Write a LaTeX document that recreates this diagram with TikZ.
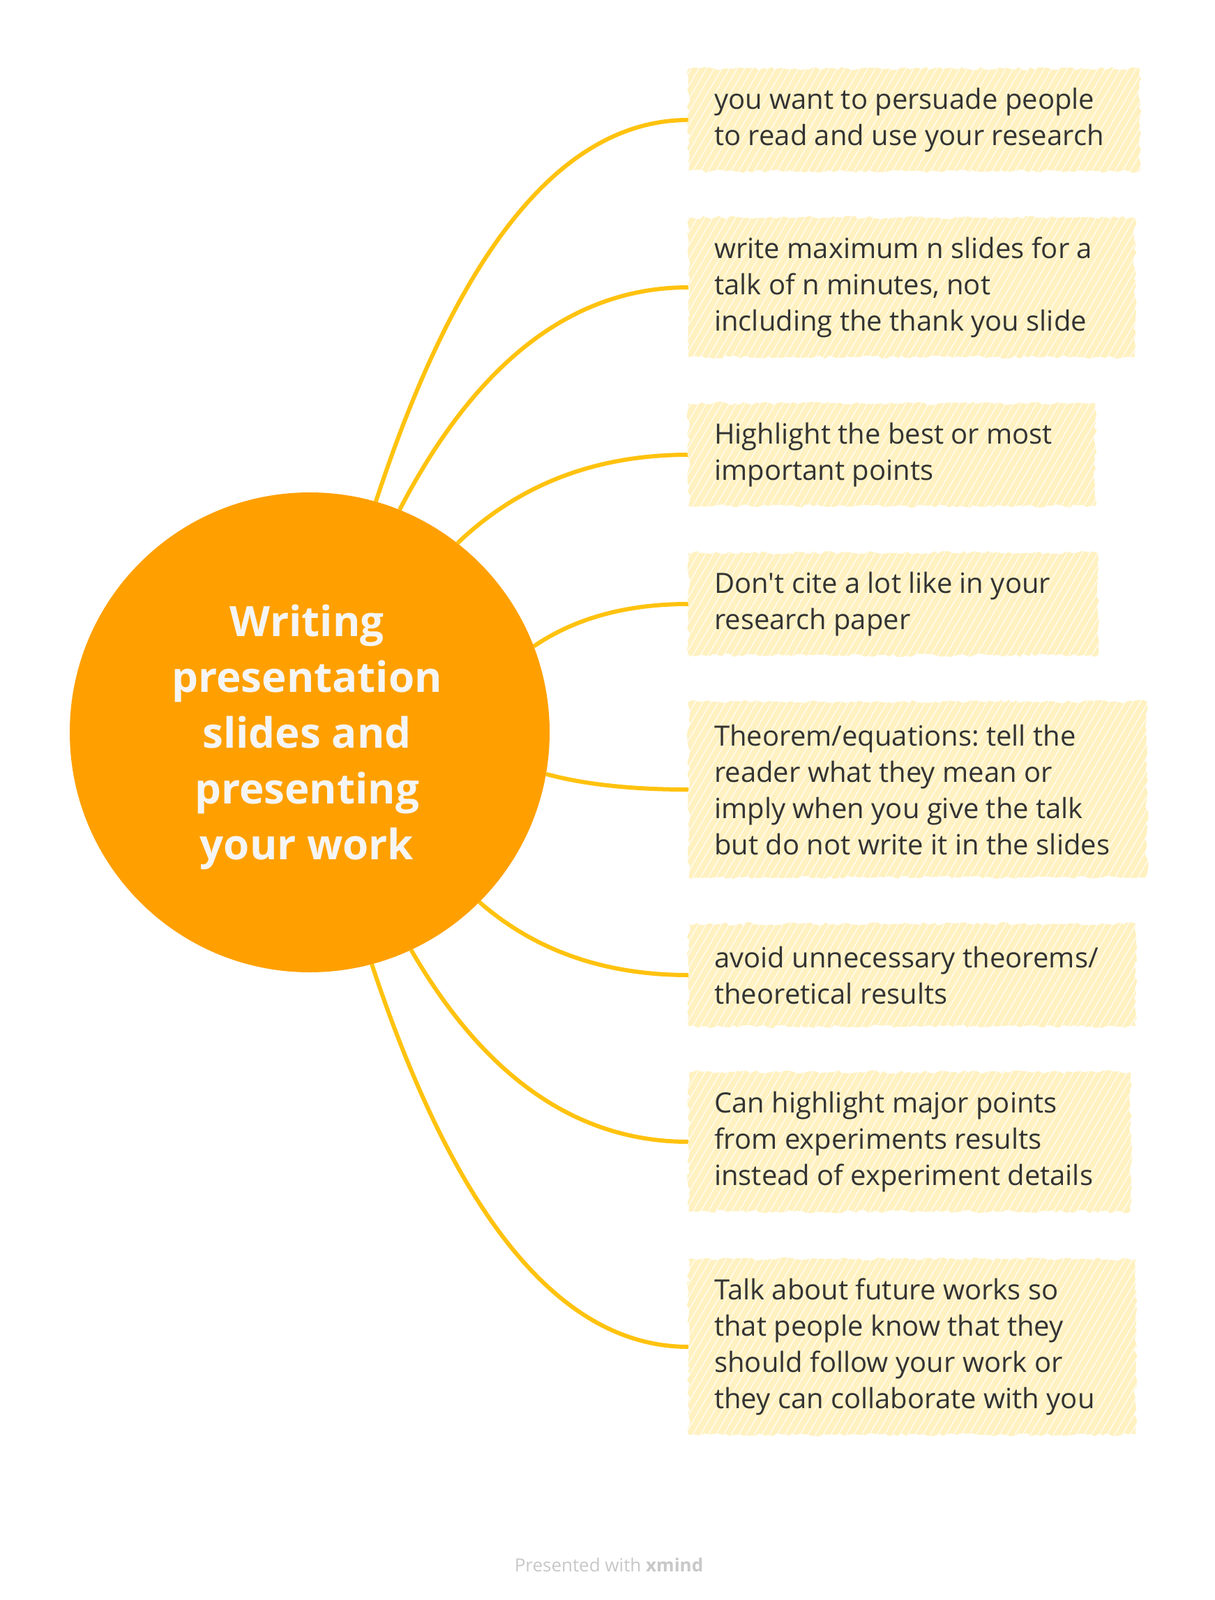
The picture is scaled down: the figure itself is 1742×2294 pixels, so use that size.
\documentclass[tikz,border=0pt]{standalone}
\usepackage{fontspec}
\setmainfont{Open Sans}[Ligatures=TeXOff]
\usetikzlibrary{positioning, calc, backgrounds, decorations.pathmorphing}
\definecolor{XMorange}{HTML}{FFA000}
\definecolor{XMline}{HTML}{FFC20E}
\definecolor{XMnote}{HTML}{FFF1C0}
\definecolor{XMtext}{HTML}{333333}
\definecolor{XMgrey}{HTML}{C8C8C8}
\frenchspacing
\begin{document}
\begin{tikzpicture}[x=1pt, y=-1pt,
    hub/.style={circle, fill=XMorange, minimum size=688pt, inner sep=0pt},
    hubtext/.style={text=white!96!black, align=center, inner sep=0pt,
      font=\fontsize{60}{80}\selectfont\bfseries},
    note/.style={anchor=west, fill=XMnote, inner sep=0pt,
      decorate, decoration={random steps, segment length=6pt, amplitude=2.4pt},
      path picture={
        \foreach \k in {-400,-389,...,700}
          \draw[white, line width=1.4pt, opacity=0.8]
            ([xshift=\k pt]path picture bounding box.south west) -- ++(175,-300);}},
    notetext/.style={anchor=west, inner sep=0pt, align=left, text=XMtext,
      font=\fontsize{40}{52}\selectfont},
    link/.style={XMline, line width=6pt}]
  \useasboundingbox (0,0) rectangle (1742,2294);

  \node[hub] (hub) at (444,1050) {};
  \node[hubtext] (title) at (440,1057)
    {Writing\\presentation\\slides and\\presenting\\your work};

  \node[note, minimum width=647pt, minimum height=147pt] (t1) at (987,172) {};
  \node[note, minimum width=640pt, minimum height=200pt] (t2) at (987,412) {};
  \node[note, minimum width=583pt, minimum height=147pt] (t3) at (987,652) {};
  \node[note, minimum width=587pt, minimum height=147pt] (t4) at (987,866) {};
  \node[note, minimum width=657pt, minimum height=252pt] (t5) at (987,1132) {};
  \node[note, minimum width=641pt, minimum height=147pt] (t6) at (987,1398) {};
  \node[note, minimum width=634pt, minimum height=200pt] (t7) at (987,1637) {};
  \node[note, minimum width=641pt, minimum height=252pt] (t8) at (987,1931) {};

  \node[notetext] (l1) at ([xshift=37pt]t1.west)
    {you want to persuade people\\to read and use your research};
  \node[notetext] (l2) at ([xshift=37pt]t2.west)
    {write maximum n slides for a\\talk of n minutes, not\\including the thank you slide};
  \node[notetext] (l3) at ([xshift=37pt]t3.west)
    {Highlight the best or most\\important points};
  \node[notetext] (l4) at ([xshift=37pt]t4.west)
    {Don't cite a lot like in your\\research paper};
  \node[notetext] (l5) at ([xshift=37pt]t5.west)
    {Theorem/equations: tell the\\reader what they mean or\\imply when you give the talk\\but do not write it in the slides};
  \node[notetext] (l6) at ([xshift=37pt]t6.west)
    {avoid unnecessary theorems/\\theoretical results};
  \node[notetext] (l7) at ([xshift=37pt]t7.west)
    {Can highlight major points\\from experiments results\\instead of experiment details};
  \node[notetext] (l8) at ([xshift=37pt]t8.west)
    {Talk about future works so\\that people know that they\\should follow your work or\\they can collaborate with you};

  % branches from the central topic
  \begin{scope}[on background layer]
    \fill[white] (0,0) rectangle (1742,2294);
    \foreach \a/\t in {74.7/t1, 68/t2, 52/t3, 21.5/t4, -10.4/t5, -45.8/t6, -65.8/t7, -75/t8}{
      \coordinate (m) at ($(hub.\a)!0.4!(\t.west)$);
      \coordinate (c) at (m |- \t.west);
      \draw[link] (hub.\a) .. controls ($(hub.\a)!2/3!(c)$) and ($(\t.west)!2/3!(c)$) .. (\t.west);}
  \end{scope}

  \node[text=XMgrey, font=\fontsize{26}{30}\selectfont] (foot) at (873,2244)
    {Presented with \textbf{xmind}};
\end{tikzpicture}
\end{document}
